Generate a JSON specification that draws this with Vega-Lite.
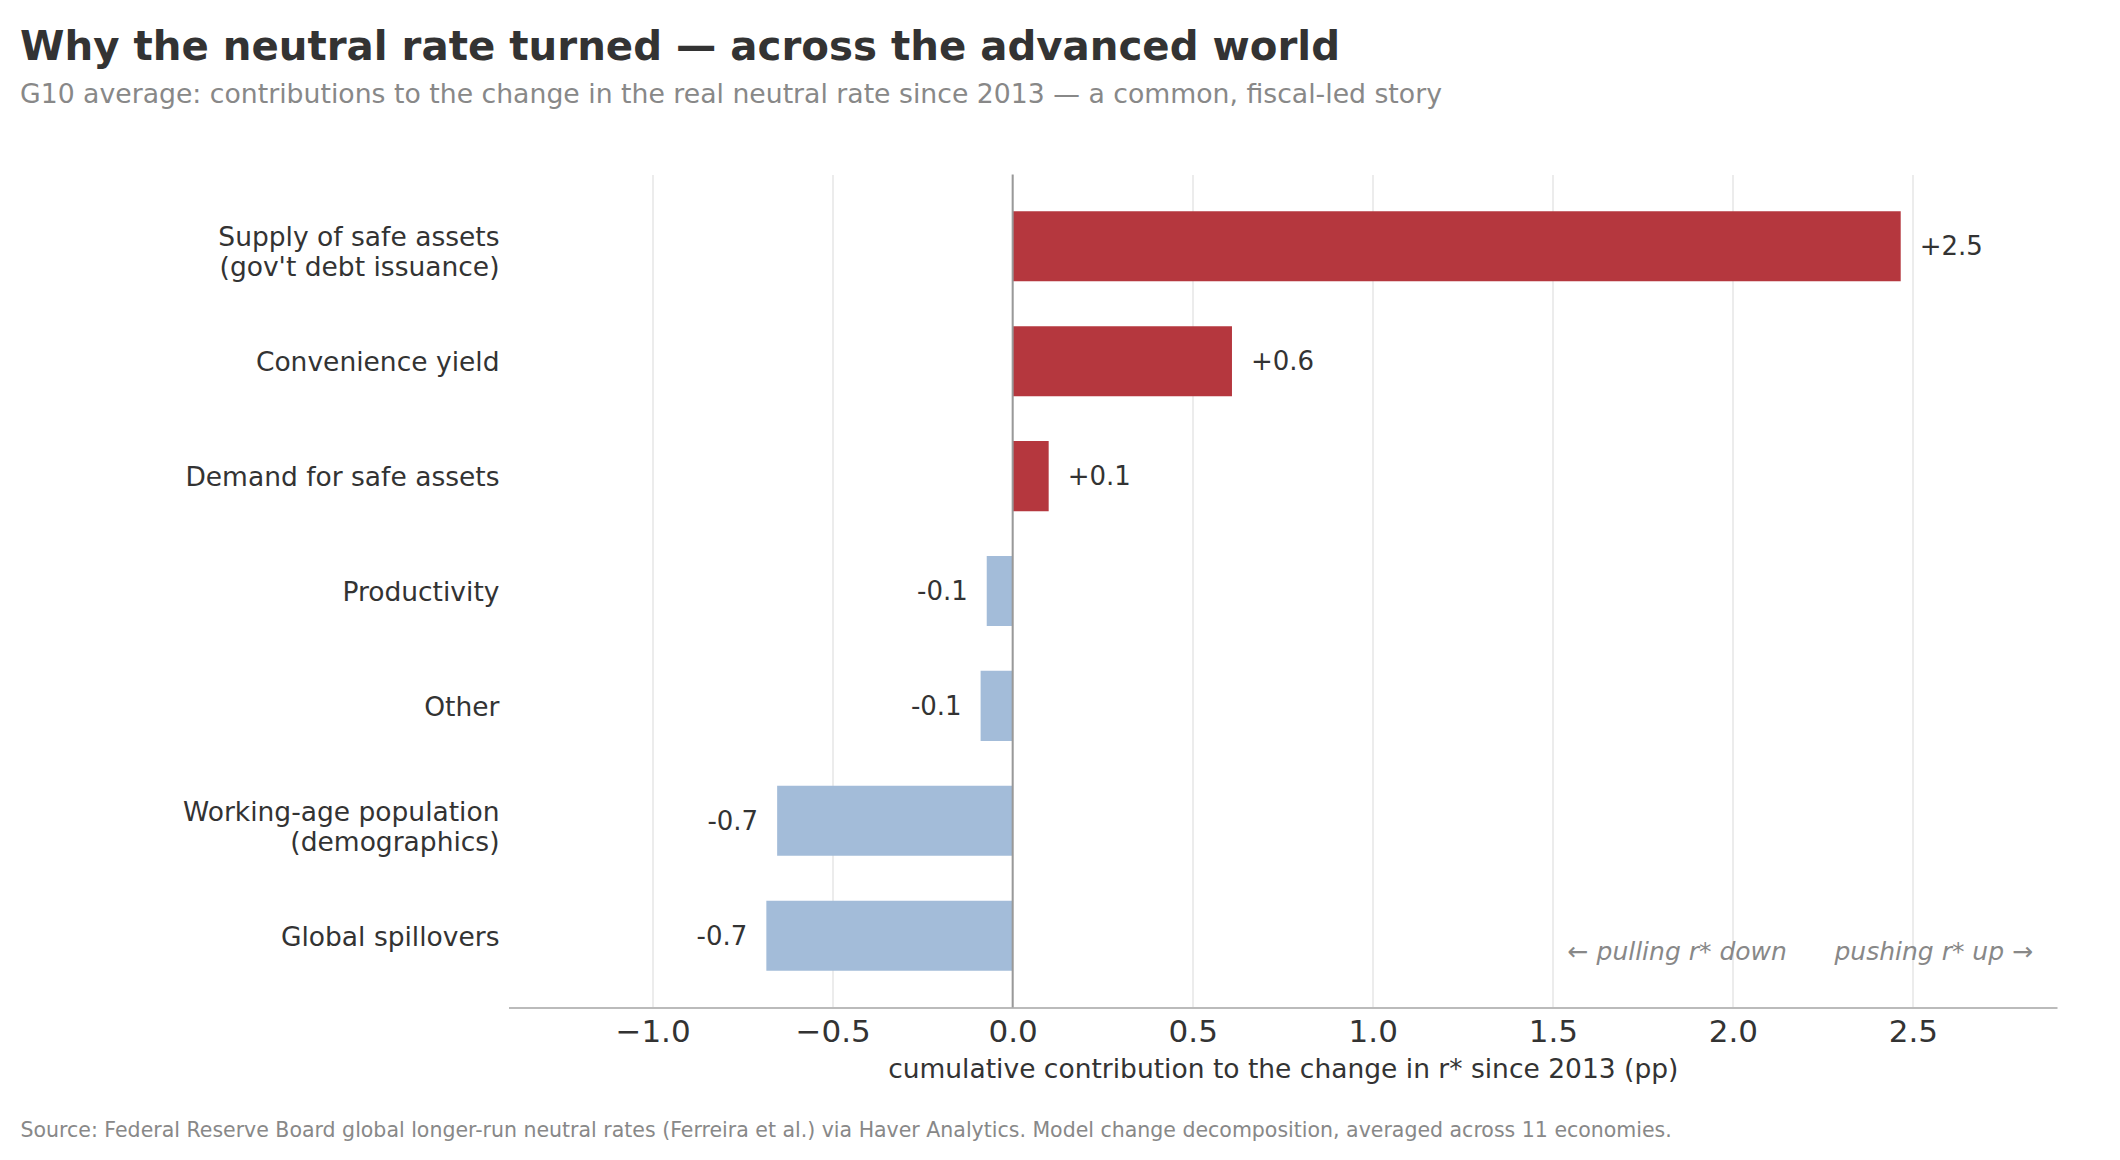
{
  "$schema": "https://vega.github.io/schema/vega-lite/v6.json",
  "width": 1548.5,
  "height": 833,
  "autosize": {"type": "none"},
  "padding": {"left": 508.5, "top": 174.5, "right": 63, "bottom": 152.5},
  "background": "white",
  "title": {
    "text": "Why the neutral rate turned — across the advanced world",
    "subtitle": "G10 average: contributions to the change in the real neutral rate since 2013 — a common, fiscal-led story",
    "anchor": "start",
    "frame": "group",
    "dx": -488.5,
    "offset": 65,
    "font": "DejaVu Sans",
    "fontSize": 40.3,
    "fontWeight": "bold",
    "color": "#333333",
    "subtitleFont": "DejaVu Sans",
    "subtitleFontSize": 26.7,
    "subtitleColor": "#888888",
    "subtitlePadding": 14
  },
  "data": {
    "values": [
      {"factor": "Supply of safe assets\n(gov't debt issuance)", "value": 2.466, "label": "+2.5"},
      {"factor": "Convenience yield", "value": 0.609, "label": "+0.6"},
      {"factor": "Demand for safe assets", "value": 0.1, "label": "+0.1"},
      {"factor": "Productivity", "value": -0.072, "label": "-0.1"},
      {"factor": "Other", "value": -0.089, "label": "-0.1"},
      {"factor": "Working-age population\n(demographics)", "value": -0.654, "label": "-0.7"},
      {"factor": "Global spillovers", "value": -0.684, "label": "-0.7"}
    ]
  },
  "layer": [
    {
      "mark": {"type": "bar"},
      "encoding": {
        "y": {
          "field": "factor",
          "type": "nominal",
          "sort": null,
          "scale": {"paddingInner": 0.39, "paddingOuter": 0.32},
          "axis": {
            "title": "Source: Federal Reserve Board global longer-run neutral rates (Ferreira et al.) via Haver Analytics. Model change decomposition, averaged across 11 economies.",
            "titleX": -488.5,
            "titleY": 955.5,
            "titleAngle": 0,
            "titleAlign": "left",
            "titleBaseline": "middle",
            "titleFont": "DejaVu Sans",
            "titleFontSize": 20.5,
            "titleFontWeight": "normal",
            "titleColor": "#888888",
            "titleLimit": 0,
            "domain": false,
            "ticks": false,
            "grid": false,
            "labelFont": "DejaVu Sans",
            "labelFontSize": 26.5,
            "labelColor": "#333333",
            "labelPadding": 9.5,
            "labelLimit": 0,
            "labelLineHeight": 30,
            "labelOffset": {"condition": {"test": "indexof(datum.value, '\\n') >= 0", "value": -8}, "value": 2},
            "labelExpr": "split(datum.label, '\\n')"
          }
        },
        "x": {
          "field": "value",
          "type": "quantitative",
          "scale": {"domain": [-1.4, 2.9], "nice": false, "zero": false},
          "axis": {
            "title": "cumulative contribution to the change in r* since 2013 (pp)",
            "values": [-1, -0.5, 0, 0.5, 1, 1.5, 2, 2.5],
            "format": ".1f",
            "grid": true,
            "gridColor": "#e6e6e6",
            "gridWidth": 1.5,
            "ticks": false,
            "domainColor": "#bbbbbb",
            "domainWidth": 2,
            "labelFont": "DejaVu Sans",
            "labelFontSize": 31,
            "labelColor": "#333333",
            "labelPadding": 10,
            "titleFont": "DejaVu Sans",
            "titleFontSize": 26.5,
            "titleFontWeight": "normal",
            "titleColor": "#333333",
            "titlePadding": 9
          }
        },
        "color": {
          "condition": {"test": "datum.value > 0", "value": "#b5373e"},
          "value": "#a3bcd9"
        }
      }
    },
    {
      "data": {"values": [{"ref": 0}]},
      "mark": {"type": "rule", "color": "#999999", "strokeWidth": 2},
      "encoding": {"x": {"field": "ref", "type": "quantitative"}}
    },
    {
      "transform": [{"filter": "datum.value > 0"}],
      "mark": {"type": "text", "align": "left", "baseline": "middle", "dx": 19, "dy": 1, "font": "DejaVu Sans", "fontSize": 26, "color": "#333333"},
      "encoding": {
        "y": {"field": "factor", "type": "nominal", "sort": null},
        "x": {"field": "value", "type": "quantitative"},
        "text": {"field": "label"}
      }
    },
    {
      "transform": [{"filter": "datum.value < 0"}],
      "mark": {"type": "text", "align": "right", "baseline": "middle", "dx": -19, "dy": 1, "font": "DejaVu Sans", "fontSize": 26, "color": "#333333"},
      "encoding": {
        "y": {"field": "factor", "type": "nominal", "sort": null},
        "x": {"field": "value", "type": "quantitative"},
        "text": {"field": "label"}
      }
    },
    {
      "data": {"values": [{"note": "← pulling r* down", "pos": 2.15, "row": "Global spillovers"}]},
      "mark": {"type": "text", "align": "right", "baseline": "middle", "dy": 16, "font": "DejaVu Sans", "fontSize": 25, "fontStyle": "italic", "color": "#888888"},
      "encoding": {
        "y": {"field": "row", "type": "nominal", "sort": null},
        "x": {"field": "pos", "type": "quantitative"},
        "text": {"field": "note"}
      }
    },
    {
      "data": {"values": [{"note": "pushing r* up →", "pos": 2.282, "row": "Global spillovers"}]},
      "mark": {"type": "text", "align": "left", "baseline": "middle", "dy": 16, "font": "DejaVu Sans", "fontSize": 25, "fontStyle": "italic", "color": "#888888"},
      "encoding": {
        "y": {"field": "row", "type": "nominal", "sort": null},
        "x": {"field": "pos", "type": "quantitative"},
        "text": {"field": "note"}
      }
    }
  ],
  "config": {
    "view": {"stroke": null},
    "font": "DejaVu Sans"
  }
}
